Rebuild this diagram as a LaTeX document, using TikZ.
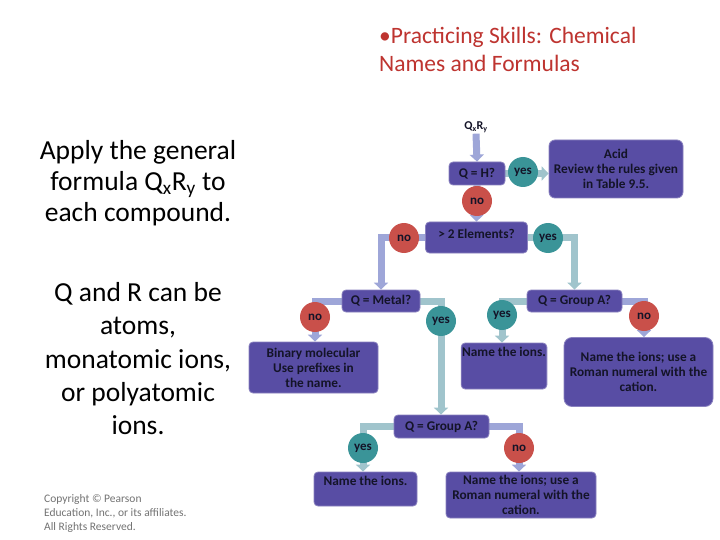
\documentclass[tikz,border=0pt]{standalone}
\usepackage{fontspec}
\setmainfont{Carlito}
\usetikzlibrary{arrows.meta,calc}
\definecolor{boxc}{RGB}{88,77,164}
\definecolor{tealc}{RGB}{58,148,152}
\definecolor{redc}{RGB}{201,80,74}
\definecolor{perw}{RGB}{158,166,216}
\definecolor{tealg}{RGB}{160,196,204}
\definecolor{titlec}{RGB}{190,52,48}
\definecolor{txtc}{RGB}{20,20,40}
\pgfdeclarelayer{bg}
\pgfdeclarelayer{paper}
\pgfsetlayers{paper,bg,main}
\tikzset{
  fbox/.style={draw=boxc!70!white, line width=0.8pt, fill=boxc, rounded corners=4pt, text=txtc,
    font=\fontsize{13.3}{15}\selectfont\bfseries, align=center, inner sep=1pt},
  yesc/.style={circle, fill=tealc, minimum size=30pt, inner sep=0pt, text=txtc,
    font=\fontsize{13}{15}\selectfont\bfseries},
  noc/.style={circle, fill=redc, minimum size=30pt, inner sep=0pt, text=txtc,
    font=\fontsize{13}{15}\selectfont\bfseries},
  pline/.style={draw=perw, line width=7pt, -{Triangle[width=14pt,length=7pt]}},
  tline/.style={draw=tealg, line width=7pt, -{Triangle[width=14pt,length=7pt]}},
}
\begin{document}
\begin{tikzpicture}[x=1pt,y=-1pt]
\begin{pgfonlayer}{paper}
\path[use as bounding box, fill=white] (0,0) rectangle (720,540);
\end{pgfonlayer}

% title
\node[anchor=north west, inner sep=0pt, align=left, text=titlec,
  font=\fontsize{23.5}{28}\selectfont] (title) at (379,27)
  {•Practicing Skills: Chemical\\Names and Formulas};

% left texts
\node[anchor=north, inner sep=0pt, align=center, font=\fontsize{27.5}{31}\selectfont] (apply) at (138,140)
  {Apply the general\\formula Q\textsubscript{x}R\textsubscript{y} to\\each compound.};
\node[anchor=north, inner sep=0pt, align=center, font=\fontsize{27.5}{33.4}\selectfont] (qr) at (138,282)
  {Q and R can be\\atoms,\\monatomic ions,\\or polyatomic\\ions.};
\node[anchor=north west, inner sep=0pt, align=left, text=black!55, font=\fontsize{11.5}{14}\selectfont] (copy) at (44,494)
  {Copyright © Pearson\\Education, Inc., or its affiliates.\\All Rights Reserved.};

% flowchart nodes
\node[text=txtc, font=\fontsize{12}{14}\selectfont\bfseries, inner sep=1pt] (qxry) at (476,127) {Q\textsubscript{x}R\textsubscript{y}};
\node[fbox, minimum width=56pt, minimum height=23pt] (qh) at (477,173.5) {Q = H?};
\node[yesc] (y1) at (523,172) {yes};
\node[fbox, minimum width=134pt, minimum height=58pt, rounded corners=6pt] (acid) at (616,169) {Acid\\Review the rules given\\in Table 9.5.};
\node[noc] (n1) at (477,201) {no};
\node[fbox, minimum width=102pt, minimum height=31pt, text height=12pt, text depth=11pt] (gt2) at (476.5,237.5) {> 2 Elements?};
\node[noc] (n2) at (404,238) {no};
\node[yesc] (y2) at (548,238) {yes};
\node[fbox, minimum width=78pt, minimum height=22pt] (metal) at (381,301) {Q = Metal?};
\node[noc] (n3) at (315,317) {no};
\node[yesc] (y3) at (441,321) {yes};
\node[fbox, minimum width=129pt, minimum height=51pt] (binary) at (313.5,367.5) {Binary molecular\\Use prefixes in\\the name.};
\node[fbox, minimum width=95pt, minimum height=22pt] (grpA) at (574.5,301) {Q = Group A?};
\node[yesc] (y4) at (502,315) {yes};
\node[noc] (n4) at (644,316) {no};
\node[fbox, minimum width=82pt, minimum height=46pt, text height=11pt, text depth=31pt] (ions1) at (504,366) {Name the ions.};
\node[fbox, minimum width=149pt, minimum height=69pt, rounded corners=8pt] (roman1) at (638.5,372) {Name the ions; use a\\Roman numeral with the\\cation.};
\node[fbox, minimum width=95pt, minimum height=23pt] (grpB) at (441.5,426.5) {Q = Group A?};
\node[yesc] (y5) at (363,448) {yes};
\node[noc] (n5) at (519,448) {no};
\node[fbox, minimum width=103pt, minimum height=34pt, text height=11pt, text depth=19pt] (ions2) at (365.5,489) {Name the ions.};
\node[fbox, minimum width=150pt, minimum height=46pt] (roman2) at (521,495) {Name the ions; use a\\Roman numeral with the\\cation.};

% connectors
\begin{pgfonlayer}{bg}
\draw[pline] (qxry.south) -- (qh.north);
\draw[tline] (qh.east) -- (qh.east -| acid.west);
\draw[pline] (qh.south) -- (gt2.north);
\draw[pline] (gt2.west) -| (metal.north);
\draw[tline] (gt2.east) -| (grpA.north);
\draw[pline] (metal.west) -| (n3.center) -- (n3 |- binary.north);
\draw[tline] (metal.east) -| (y3.center) -- (y3 |- grpB.north);
\draw[tline] (grpA.west) -| (y4.center) -- (y4 |- ions1.north);
\draw[pline] (grpA.east) -| (n4.center) -- (n4 |- roman1.north);
\draw[tline] (grpB.west) -| (y5.center) -- (y5 |- ions2.north);
\draw[pline] (grpB.east) -| (n5.center) -- (n5 |- roman2.north);
\end{pgfonlayer}
\end{tikzpicture}
\end{document}
